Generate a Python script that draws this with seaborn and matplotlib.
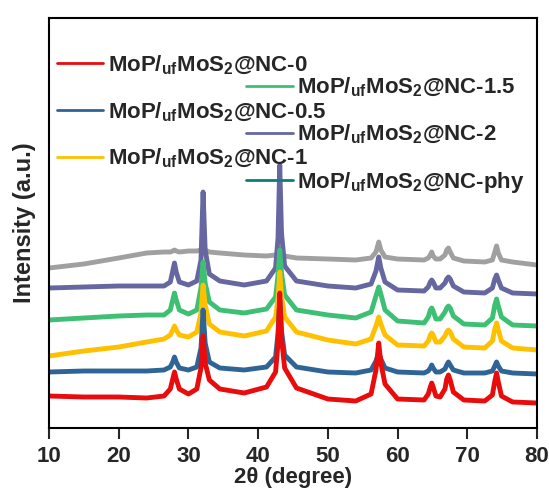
import numpy as np
import pandas as pd
import seaborn as sns
import matplotlib.pyplot as plt
from matplotlib.lines import Line2D

# 2theta grid (denser around the MoP reflections)
two_theta = [10, 15, 20, 24, 26.5, 27.4, 27.75, 28.0, 28.25, 28.7,
             30.0, 31.2, 31.8, 32.1, 32.4, 33.0, 34.5,
             38, 41.2, 42.5, 42.85, 43.1, 43.35, 43.8, 45.5,
             50, 54, 56.2, 56.9, 57.3, 57.6, 58.2, 60,
             63.8, 64.4, 64.7, 64.9, 65.1, 65.5, 66.1,
             66.8, 67.05, 67.3, 67.55, 68.0, 69.5,
             72.5, 73.6, 73.95, 74.2, 74.45, 74.9, 76.5, 80]

# intensities (a.u., already stacked with offsets as in the figure)
nc_0 = [32, 31, 31, 30, 32, 39, 49, 56, 49, 39,
        34, 39, 60, 92, 65, 48, 39,
        35, 41, 56, 85, 135, 90, 60, 40,
        29, 27, 34, 58, 85, 65, 44, 29,
        28, 34, 41, 45, 41, 32, 31,
        39, 49, 53, 48, 36, 28,
        27, 33, 47, 55, 46, 32, 26, 25]
nc_05 = [56, 57, 57, 57, 58, 61, 66, 71, 66, 60,
         58, 61, 80, 118, 85, 66, 60,
         58, 61, 71, 95, 128, 97, 73, 61,
         56, 55, 58, 67, 75, 69, 60, 56,
         55, 57, 60, 63, 60, 56, 56,
         59, 63, 66, 63, 58, 55,
         55, 57, 62, 66, 62, 57, 55, 54]
nc_1 = [72, 77, 81, 86, 89, 93, 98, 102, 98, 93,
        91, 96, 115, 143, 123, 104, 96,
        92, 97, 111, 130, 156, 133, 111, 96,
        88, 84, 89, 102, 111, 104, 93, 83,
        82, 87, 93, 95, 93, 86, 86,
        92, 96, 98, 96, 89, 81,
        80, 87, 99, 105, 98, 87, 80, 78]
nc_15 = [108, 110, 112, 113, 113, 118, 128, 135, 128, 118,
         114, 118, 140, 166, 145, 126, 118,
         115, 119, 131, 153, 178, 155, 133, 118,
         113, 110, 116, 132, 141, 134, 118, 107,
         105, 111, 118, 120, 117, 109, 109,
         116, 120, 122, 120, 112, 104,
         103, 110, 123, 129, 122, 111, 103, 102]
nc_2 = [140, 141, 142, 142, 142, 146, 157, 165, 156, 146,
        143, 147, 168, 236, 178, 154, 147,
        143, 147, 160, 190, 263, 195, 162, 147,
        142, 140, 144, 157, 171, 160, 146, 138,
        137, 141, 146, 148, 146, 140, 140,
        145, 149, 151, 149, 142, 136,
        135, 140, 149, 153, 148, 140, 135, 134]
nc_phy = [160, 164, 170, 175, 176, 176, 177, 178, 177, 176,
          177, 177, 178, 181, 178, 176, 175,
          173, 172, 173, 175, 180, 175, 172, 170,
          169, 168, 170, 176, 186, 178, 171, 169,
          168, 170, 173, 176, 172, 169, 169,
          173, 178, 180, 176, 170, 167,
          166, 168, 176, 182, 175, 168, 166, 163]

labels = [r'MoP/$_{\mathrm{uf}}$MoS$_{\mathrm{2}}$@NC-0',
          r'MoP/$_{\mathrm{uf}}$MoS$_{\mathrm{2}}$@NC-0.5',
          r'MoP/$_{\mathrm{uf}}$MoS$_{\mathrm{2}}$@NC-1',
          r'MoP/$_{\mathrm{uf}}$MoS$_{\mathrm{2}}$@NC-1.5',
          r'MoP/$_{\mathrm{uf}}$MoS$_{\mathrm{2}}$@NC-2',
          r'MoP/$_{\mathrm{uf}}$MoS$_{\mathrm{2}}$@NC-phy']
series = [nc_0, nc_05, nc_1, nc_15, nc_2, nc_phy]
line_colors = ['#E80C0C', '#2F6496', '#FFC000', '#3DBF74', '#6666A0', '#A0A0A0']
legend_colors = ['#E80C0C', '#2F6496', '#FFC000', '#3DBF74', '#6666A0', '#08807A']

sns.set_style('ticks')
plt.rcParams['font.family'] = ['Liberation Sans', 'DejaVu Sans']
plt.rcParams['font.weight'] = 'bold'
plt.rcParams['mathtext.fontset'] = 'custom'
plt.rcParams['mathtext.rm'] = 'Liberation Sans:bold'
plt.rcParams['mathtext.bf'] = 'Liberation Sans:bold'

fig = plt.figure(figsize=(5.49, 4.90), dpi=100)
ax = fig.add_axes([49 / 549, 62 / 490, 488 / 549, 410 / 490])

# top trace first, red last (on top)
for i in range(5, -1, -1):
    df = pd.DataFrame({'x': two_theta, 'y': series[i]})
    sns.lineplot(data=df, x='x', y='y', color=line_colors[i], lw=3.5, ax=ax)

ax.set_xlim(10, 80)
ax.set_ylim(0, 410)
ax.set_xticks(range(10, 81, 10))
ax.set_yticks([])
ax.tick_params(axis='x', direction='out', length=8, width=1.5, labelsize=16, pad=5)
for sp in ax.spines.values():
    sp.set_linewidth(1.5)
    sp.set_color('black')
ax.set_xlabel('2θ (degree)', fontsize=16, fontweight='bold', labelpad=0)
ax.set_ylabel('Intensity (a.u.)', fontsize=17, fontweight='bold', labelpad=9)

# staggered two-column legend
h = [Line2D([], [], color=c, lw=2) for c in legend_colors]
leg1 = ax.legend(h[:3], labels[:3], loc='upper left', bbox_to_anchor=(0.016, 0.913),
                 frameon=False, fontsize=16, handlelength=2.1, handletextpad=0.2,
                 labelspacing=1.06, borderpad=0, borderaxespad=0)
ax.add_artist(leg1)
ax.legend(h[3:], labels[3:], loc='upper left', bbox_to_anchor=(0.404, 0.858),
          frameon=False, fontsize=16, handlelength=2.1, handletextpad=0.2,
          labelspacing=1.06, borderpad=0, borderaxespad=0)

plt.savefig('out.png', dpi=100)
